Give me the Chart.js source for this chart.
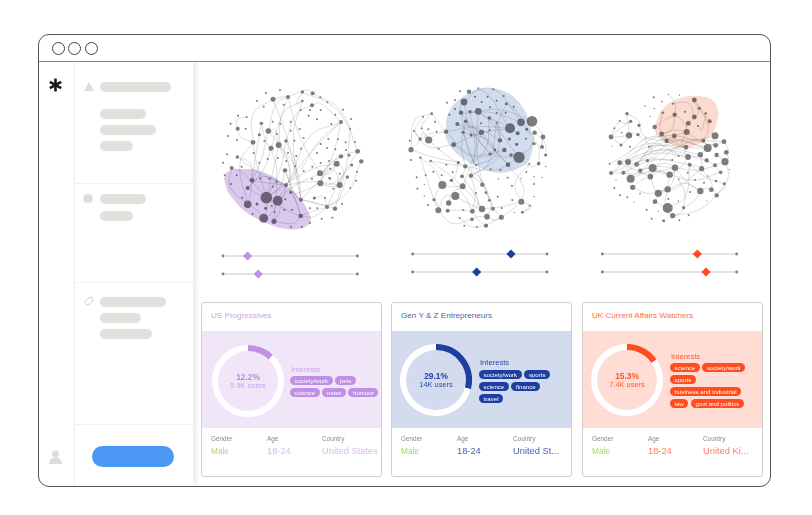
<!DOCTYPE html>
<html>
<head>
<meta charset="utf-8">
<script src="https://cdn.jsdelivr.net/npm/chart.js@4/dist/chart.umd.js"></script>
<style>
html, body { margin: 0; padding: 0; background: #fff; }
body { width: 812px; height: 515px; position: relative; overflow: hidden; font-family: "Liberation Sans", sans-serif; }
.abs { position: absolute; }
#frame { left: 38px; top: 34px; width: 731px; height: 451px; border: 1px solid #555; border-radius: 11px; }
#titlebar { left: 39px; top: 61px; width: 731px; height: 1px; background: #8a8a8a; }
.dot { width: 11px; height: 11px; border: 1px solid #444; border-radius: 50%; top: 42px; }
#rail { left: 74px; top: 62px; width: 1px; height: 423px; background: #eee; }
#gutter { left: 193px; top: 62px; width: 5px; height: 423px; background: linear-gradient(90deg, #eeeeee, #f8f8f8); }
.divider { left: 75px; width: 118px; height: 1px; background: #f1f1f1; }
.bar { left: 100px; height: 10px; background: #e0e0dc; border-radius: 5px; }
#button { left: 92px; top: 446px; width: 82px; height: 21px; background: #4b98f5; border-radius: 11px; }
.card { width: 179px; height: 173px; top: 302px; border: 1px solid #cfcfcf; border-radius: 3px; background: #fff; }
.band { left: 0; width: 179px; top: 28px; height: 97px; }
.title { font-size: 8.1px; top: 8px; white-space: nowrap; }
.ring { width: 72px; height: 72px; }
.share { font-size: 8.4px; font-weight: bold; text-align: center; width: 72px; }
.users { font-size: 7.4px; text-align: center; width: 72px; }
.label { font-size: 7.6px; white-space: nowrap; }
.pills { display: flex; gap: 2.6px; white-space: nowrap; }
.pill { font-size: 6.1px; height: 9px; line-height: 9px; padding: 0 4.6px; border-radius: 5px; color: #fff; }
.meta { font-size: 6.4px; color: #7f8e8e; top: 132px; }
.value { font-size: 9.3px; top: 143px; white-space: nowrap; }
.male { font-size: 8.3px; top: 143px; color: #a9d66e; }
canvas { position: absolute; }
</style>
</head>
<body>
<div class="abs" id="frame"></div>
<div class="abs" id="titlebar"></div>
<div class="abs dot" style="left:52px"></div>
<div class="abs dot" style="left:68px"></div>
<div class="abs dot" style="left:85px"></div>
<div class="abs" id="rail"></div>
<div class="abs" id="gutter"></div>
<div class="abs divider" style="top:183px"></div>
<div class="abs divider" style="top:282px"></div>
<div class="abs divider" style="top:424px"></div>
<div class="abs bar" style="top:82px;width:71px"></div>
<div class="abs bar" style="top:109px;width:46px"></div>
<div class="abs bar" style="top:125px;width:56px"></div>
<div class="abs bar" style="top:141px;width:33px"></div>
<div class="abs bar" style="top:194px;width:46px"></div>
<div class="abs bar" style="top:211px;width:33px"></div>
<div class="abs bar" style="top:297px;width:66px"></div>
<div class="abs bar" style="top:313px;width:41px"></div>
<div class="abs bar" style="top:329px;width:52px"></div>
<div class="abs" id="button"></div>
<svg class="abs" style="left:0;top:0" width="812" height="515">
  <g stroke="#1a1a1a" stroke-width="2.6">
    <line x1="55.5" y1="78.5" x2="55.5" y2="91.5"/>
    <line x1="49.8" y1="81.8" x2="61.2" y2="88.2"/>
    <line x1="49.8" y1="88.2" x2="61.2" y2="81.8"/>
  </g>
  <polygon points="89,82 94,91 84,91" fill="#dcdcd8"/>
  <polygon points="88,193 89.5,195 92,194.5 92,197 93.5,198.5 92,200 92,202.5 89.5,202 88,204 86.5,202 84,202.5 84,200 82.5,198.5 84,197 84,194.5 86.5,195" fill="#dcdcd8"/>
  <ellipse cx="89" cy="301" rx="4.5" ry="2.6" transform="rotate(-45 89 301)" fill="none" stroke="#dcdcd8" stroke-width="1.2"/>
  <circle cx="55.5" cy="454" r="3.5" fill="#dcdcd8"/>
  <path d="M49 464 q0 -6 6.5 -6.5 q6.500 .5 6.500 6.500 z" fill="#dcdcd8"/>
</svg>
<div id="cards"></div>
<canvas id="net1" class="net" width="190" height="220" style="left:200px;top:70px"></canvas>
<canvas id="net2" class="net" width="180" height="220" style="left:395px;top:70px"></canvas>
<canvas id="net3" class="net" width="180" height="220" style="left:585px;top:70px"></canvas>
<canvas id="hull1" width="190" height="220" style="left:200px;top:70px;mix-blend-mode:multiply"></canvas>
<canvas id="hull2" width="180" height="220" style="left:395px;top:70px;mix-blend-mode:multiply"></canvas>
<canvas id="hull3" width="180" height="220" style="left:585px;top:70px;mix-blend-mode:multiply"></canvas>

<script>
// card content
const cardTitles = ["US Progressives", "Gen Y & Z Entrepreneurs", "UK Current Affairs Watchers"];
const shares = [12.2, 29.1, 15.3];
const shareLabels = ["12.2%", "29.1%", "15.3%"];
const userCounts = ["5.9K users", "14K users", "7.4K users"];
const interests = [
  [["society/work", "pets"], ["science", "news", "humour"]],
  [["society/work", "sports"], ["science", "finance"], ["travel"]],
  [["science", "society/work"], ["sports"], ["business and industrial"], ["law", "govt and politics"]]
];
const genders = ["Male", "Male", "Male"];
const ages = ["18-24", "18-24", "18-24"];
const countries = ["United States", "United St...", "United Ki..."];

// sliders: track ends, then knob positions
const trackEnds1 = [69, 472];
const trackEnds2 = [53, 456];
const trackEnds3 = [52, 455];
const trackRows1 = [558, 612];
const trackRows2 = [552, 606];
const knobs1 = [143, 175];
const knobs2 = [348, 245];
const knobs3 = [337, 363];

// graph nodes, [x, y, r]. x/y are in the network's own units
const nodes1 = [
  [199,383,5.8],[233,392,5],[143,403,3.8],[191,445,4.5],[222,454,2.6],[156,331,2.4],[143,354,2],[171,402,1.5],[197,415,1.5],[258,345,2],
  [272,367,1.5],[303,389,2],[302,438,2.2],[95,294,2],[74,316,1],[110,316,1],[93,342,1],[127,383,1],[158,432,1],[181,326,1],
  [208,326,1],[230,336,1],[218,350,1],[253,419,1],[224,427,1],[273,471,1],[305,471,1],[330,459,1],[276,419,1],[256,388,1],[215,408,1],
  [219,88,2.5],[264,81,2],[307,66,1.7],[338,70,2],[336,106,2],[307,93,1.3],[198,69,1],[240,60,1],[171,93,1],[191,110,1],
  [251,104,1],[361,82,1],[382,97,1],[362,120,1],[330,120,1],[302,120,1],[429,119,1],[453,147,1],[423,156,2],[450,176,1],
  [406,134,1],[394,162,1],[351,148,1],[326,137,1],[114,137,1],[140,141,1],[92,161,1],[113,176,2],[137,176,1],[84,198,1],
  [111,210,1],[184,160,1.7],[218,155,1],[241,161,1],[272,155,1],[205,183,2.8],[178,194,1.5],[231,192,1],[159,217,2.4],[193,213,1],
  [213,235,2.5],[236,225,3],[258,213,1.7],[272,182,1],[299,177,1],[283,212,1],[311,204,1],[385,207,1],[414,208,1],[362,222,1],
  [437,217,1],[465,216,1],[473,244,2.4],[484,274,2.2],[406,238,1],[438,240,1],[447,256,1.4],[423,259,2.2],[381,234,1],[351,249,1],
  [303,236,1],[81,253,1],[112,261,1.7],[69,278,1],[161,249,1],[178,278,1],[203,267,1],[233,264,1],[264,248,1],[289,258,1],
  [259,273,1],[125,290,1],[255,301,2.2],[285,289,1],[311,303,1],[337,290,1],[362,279,1],[410,281,3],[387,273,1],[455,285,1.6],
  [471,305,1],[468,332,1],[442,321,1.7],[419,311,1],[391,296,1],[360,310,3],[389,325,1.4],[361,340,3],[419,345,3],[400,356,1],
  [451,354,1],[336,326,1],[343,384,1.6],[375,384,1],[381,411,2],[405,416,2.2],[352,415,1],[426,402,1],[397,443,1],[365,446,1],[330,415,1]
];
const nodes2 = [
  [222,65,2.2],[207,96,3.4],[195,64,1],[250,55,1],[295,58,1],[278,80,1],[326,78,1],[240,80,1],[156,98,1],[180,90,1],
  [260,96,1],[305,92,1],[334,101,1.5],[356,110,1],[198,128,2.2],[225,125,1.7],[250,124,3.4],[180,117,1],[163,134,1],[285,112,1],
  [305,128,1],[332,128,1],[110,131,1.4],[84,141,1],[283,144,1.8],[187,162,2],[212,154,1.8],[345,175,5],[378,157,3.8],[411,154,5.3],
  [153,185,2.2],[204,187,1.5],[228,195,1.5],[259,187,2.7],[284,180,1],[305,158,1],[258,160,1],[368,190,2],[395,178,1.5],[419,188,2.2],
  [444,201,2.4],[101,210,3.6],[75,207,1.7],[57,183,1],[44,212,1],[48,239,2.6],[80,175,1],[100,178,1],[125,185,1],[120,155,1],
  [176,224,2.4],[315,211,2.2],[343,207,1.5],[365,223,1.6],[393,206,1],[417,221,1.7],[441,231,2],[452,255,1.6],[328,240,2.3],[300,240,1.4],
  [285,252,1.5],[348,255,1.7],[372,262,5.7],[339,284,2.3],[287,298,1],[316,300,1],[403,281,1],[431,281,1.8],[452,290,.7],[76,263,1.2],
  [48,270,1],[107,273,1.3],[131,236,1],[190,278,1.6],[211,289,2.2],[243,285,1],[154,284,1],[115,305,1],[140,316,1],[173,307,1],
  [65,322,1],[92,316,1],[169,331,1.7],[201,319,1.9],[228,317,2.2],[262,344,2.2],[142,345,4],[203,349,3],[67,356,1],[88,343,.7],
  [181,378,4],[117,389,1.6],[88,378,.7],[99,405,1],[161,399,2.7],[130,421,3],[158,422,2],[205,420,1],[232,424,2.4],[261,417,3.2],
  [294,416,2],[283,391,1.4],[273,368,1.4],[243,369,1],[308,380,1],[319,442,2.5],[276,440,2.8],[231,448,1.8],[194,444,1],[273,467,2.1],
  [246,471,1],[208,467,1],[382,427,1.4],[404,407,1],[379,395,3],[352,390,1],[320,414,1],[358,427,.7],[338,323,1],[351,347,1],
  [378,326,.7],[394,306,1],[417,342,1],[417,320,.7],[441,322,.7],[417,380,.7],[310,327,.7]
];
const nodes3 = [
  [206,82,1],[250,73,.7],[283,75,.7],[231,95,.8],[263,101,1],[180,108,.8],[208,116,.7],[328,90,2.4],[343,115,1.5],[362,130,1.2],
  [374,154,2],[233,128,1.2],[269,134,2.2],[328,141,2.4],[300,125,1],[126,131,1.7],[137,154,1.6],[104,153,1],[162,166,1.7],[88,175,1],
  [78,201,2.4],[110,188,.8],[132,196,3.2],[159,194,1.7],[108,225,1.5],[135,230,1],[82,229,.6],[182,205,.7],[196,139,.7],[310,160,2.4],
  [209,171,2.2],[339,168,1],[305,186,3],[230,192,2.4],[268,198,2.4],[245,213,2.2],[355,212,2],[390,197,3.5],[417,215,2.4],[303,232,2.4],
  [392,226,2.4],[368,234,4],[424,247,2.4],[346,254,2.7],[309,261,2.9],[395,255,2.2],[365,271,2.2],[420,275,3.6],[390,286,2],[407,307,1.8],
  [350,296,2.6],[314,284,2],[192,230,1],[187,272,1.7],[262,270,1],[281,258,1],[104,278,2.4],[129,276,3],[155,283,2.4],[74,281,1],
  [78,309,2],[115,308,2],[166,302,2.2],[203,294,4],[270,293,3.2],[254,314,3.2],[196,320,2.8],[137,326,4],[143,352,2.6],[93,331,.7],
  [88,354,1],[105,376,1],[127,382,1],[147,396,.6],[165,371,.8],[220,370,3.6],[248,358,3.2],[210,395,2.4],[248,414,5],[263,437,2.6],
  [296,413,1.6],[280,393,.8],[346,363,3.2],[379,359,2.4],[395,376,2.2],[418,341,1.5],[393,333,1.3],[357,338,1],[281,328,.8],[330,330,1],
  [308,308,1],[368,318,.7],[433,298,.7],[315,366,1],[185,419,1],[200,446,1],[236,452,1.5],[283,451,1],[311,436,1],[220,424,.6],[366,393,.6],[250,387,1]
];

// graph edges, [x1, y1, xBend, yBend, x2, y2]
const edges1 = [
  [338,70,420,120,473,244],[307,66,400,110,450,176],[264,81,300,200,360,310],[219,88,260,200,303,389],[219,88,160,130,159,217],[264,81,230,100,205,183],
  [307,93,250,130,236,225],[336,106,290,130,258,213],[423,156,330,250,258,345],[423,156,400,250,361,340],[450,176,440,280,405,416],[473,244,420,330,381,411],
  [484,274,430,380,302,438],[410,281,330,300,199,383],[360,310,280,350,233,392],[361,340,290,370,272,367],[419,345,340,335,258,345],[410,281,350,340,303,389],
  [442,321,400,400,303,389],[455,285,400,340,361,340],[423,259,380,290,361,340],[473,244,420,260,360,310],[205,183,180,280,156,331],[213,235,190,300,143,354],
  [236,225,220,300,199,383],[236,225,270,310,233,392],[159,217,170,280,199,383],[159,217,120,280,143,403],[112,261,150,280,156,331],[95,294,130,310,199,383],
  [95,294,90,350,143,403],[113,176,110,150,140,141],[113,176,120,200,159,217],[184,160,200,220,213,235],[205,183,225,180,236,225],[184,160,170,240,156,331],
  [258,213,240,300,199,383],[255,301,240,350,199,383],[255,301,290,380,303,389],[255,301,290,400,302,438],[156,331,210,340,258,345],[143,354,170,370,199,383],
  [156,331,150,380,143,403],[199,383,200,420,191,445],[233,392,215,430,191,445],[233,392,240,420,222,454],[143,403,170,420,191,445],[272,367,290,400,302,438],
  [258,345,250,380,233,392],[222,454,280,460,302,438],[199,383,260,420,302,438],[143,354,190,320,258,345],[112,261,180,310,258,345],[264,81,320,60,338,70],
  [336,106,360,100,423,156],[307,66,290,100,307,93],[219,88,250,80,264,81],[423,156,360,210,303,300],[423,156,330,200,270,330],[405,416,350,400,303,389],
  [381,411,340,440,302,438],[360,310,400,300,419,345],[410,281,430,300,419,345],[361,340,390,350,419,345],[410,281,390,310,360,310],[343,384,370,380,381,411],
  [205,183,260,260,272,367],[264,81,240,150,213,235],[307,93,280,200,303,389],[236,225,290,300,303,389],[213,235,230,300,222,454],[258,213,290,300,258,345]
];
const edges2 = [
  [222,65,300,60,378,157],[207,96,260,60,345,175],[250,124,300,170,372,262],[198,128,260,200,339,284],[212,154,290,250,372,262],[259,187,300,240,339,284],
  [187,162,260,180,315,211],[153,185,250,170,345,175],[176,224,260,190,345,175],[225,125,300,130,378,157],[250,124,320,120,411,154],[283,144,340,170,368,190],
  [207,96,230,190,259,187],[198,128,220,240,243,285],[225,125,240,230,228,317],[250,124,245,230,262,344],[283,144,270,240,211,289],[305,158,280,280,228,317],
  [259,187,240,250,203,349],[212,154,200,230,211,289],[204,187,230,260,262,344],[176,224,240,260,328,240],[153,185,220,250,285,252],[315,211,300,260,243,285],
  [328,240,290,280,228,317],[372,262,300,300,211,289],[348,255,400,240,419,188],[378,157,410,190,417,221],[411,154,440,190,441,231],[419,188,450,220,452,255],
  [395,178,430,230,431,281],[372,262,410,290,431,281],[110,131,60,150,48,239],[110,131,140,170,153,185],[84,141,60,180,75,207],[101,210,130,190,153,185],
  [75,207,85,190,101,210],[48,239,90,200,125,185],[57,183,100,230,176,224],[110,131,80,170,101,210],[76,263,120,300,142,345],[48,239,110,260,190,278],
  [76,263,100,340,117,389],[107,273,150,280,211,289],[101,210,160,260,211,289],[107,273,170,320,203,349],[190,278,180,320,169,331],[211,289,210,300,201,319],
  [201,319,230,360,261,417],[228,317,240,370,232,424],[169,331,210,380,232,424],[142,345,170,350,203,349],[203,349,240,390,261,417],[181,378,220,400,261,417],
  [117,389,130,410,130,421],[161,399,170,370,203,349],[130,421,150,380,181,378],[158,422,190,420,232,424],[142,345,120,380,130,421],[262,344,280,380,294,416],
  [273,368,290,400,276,440],[243,369,250,400,232,424],[228,317,270,350,283,391],[211,289,260,330,273,368],[232,424,250,450,273,467],[231,448,250,440,276,440],
  [194,444,230,470,273,467],[130,421,170,460,231,448],[276,440,300,450,319,442],[294,416,310,430,319,442],[379,395,350,420,273,467],[379,395,385,350,339,284],
  [403,281,360,340,379,395],[379,395,410,410,382,427],[404,407,395,420,382,427],[261,417,320,410,379,395],[250,124,310,170,315,211],[204,187,280,210,300,240],
  [187,162,230,190,285,252],[207,96,195,110,198,128],[198,128,220,130,250,124],[212,154,230,170,259,187],[334,101,310,160,315,211],[334,101,370,130,378,157]
];
const edges3 = [
  [250,73,270,100,269,134],[263,101,310,100,328,141],[328,90,350,120,374,154],[328,90,340,130,328,141],[343,115,370,170,355,212],[269,134,240,150,209,171],
  [269,134,260,180,230,192],[233,128,225,170,230,192],[328,141,320,150,310,160],[310,160,305,170,305,186],[269,134,300,160,305,186],[230,192,270,180,305,186],
  [230,192,240,200,245,213],[268,198,260,200,245,213],[268,198,290,190,305,186],[245,213,270,225,303,232],[305,186,340,210,355,212],[209,171,220,200,245,213],
  [362,130,350,180,339,168],[126,131,130,170,132,196],[126,131,160,150,162,166],[137,154,120,160,104,153],[104,153,90,170,78,201],[78,201,100,180,137,154],
  [78,201,105,200,132,196],[78,201,95,215,108,225],[132,196,120,215,108,225],[132,196,145,190,159,194],[162,166,180,200,245,213],[159,194,200,240,155,283],
  [104,278,200,200,303,232],[129,276,220,200,392,226],[155,283,230,210,368,234],[78,309,190,230,346,254],[115,308,220,240,309,261],[104,278,230,240,365,271],
  [74,281,200,220,281,258],[166,302,250,240,368,234],[203,294,280,230,390,197],[187,272,270,215,368,234],[78,309,180,270,262,270],[129,276,210,250,309,261],
  [155,283,210,230,303,232],[192,230,280,210,417,215],[115,308,210,270,314,284],[78,309,180,310,270,293],[104,278,150,300,196,320],[137,326,170,300,203,294],
  [137,326,210,300,254,314],[166,302,200,290,270,293],[203,294,230,310,254,314],[203,294,240,280,270,293],[196,320,225,305,254,314],[143,352,170,330,196,320],
  [143,352,190,370,248,358],[196,320,210,360,220,370],[254,314,250,340,248,358],[270,293,260,340,220,370],[220,370,215,385,210,395],[248,358,240,400,248,414],
  [210,395,230,405,248,414],[248,414,255,430,263,437],[263,437,285,430,296,413],[296,413,330,390,346,363],[263,437,340,420,395,376],[248,358,300,340,346,363],
  [270,293,310,340,346,363],[346,363,365,355,379,359],[379,359,390,365,395,376],[395,376,420,350,418,341],[420,275,430,320,395,376],[350,296,380,340,379,359],
  [314,284,340,290,350,296],[309,261,330,260,346,254],[346,254,360,240,368,234],[368,234,380,225,392,226],[392,226,405,220,417,215],[417,215,430,240,424,247],
  [424,247,430,265,420,275],[395,255,410,265,420,275],[365,271,380,280,390,286],[390,286,400,300,407,307],[314,284,360,320,418,341],[254,314,330,330,407,307],
  [270,293,340,300,420,275],[309,261,290,290,254,314],[303,232,300,250,309,261],[346,254,350,280,350,296],[390,197,385,215,392,226],[355,212,365,225,368,234],
  [281,328,300,370,296,413],[248,414,300,380,314,284],[220,370,280,350,350,296],[305,186,290,220,303,232]
];

// highlighted clusters: upper and lower edge, both running left to right
const hullTop1 = [[72,325],[82,305],[120,297],[180,303],[250,340],[300,385],[325,425],[333,445]];
const hullLow1 = [[72,325],[78,350],[90,375],[130,420],[190,455],[260,477],[310,473],[330,458],[333,445]];
const hullTop2 = [[152,175],[155,145],[175,105],[225,68],[280,55],[340,70],[385,115],[405,165],[414,215]];
const hullLow2 = [[152,175],[155,210],[190,255],[240,285],[290,305],[340,305],[395,280],[410,250],[414,215]];
const hullTop3 = [[210,165],[235,115],[285,85],[340,78],[385,92],[402,130]];
const hullLow3 = [[210,165],[218,195],[250,218],[300,232],[345,220],[385,185],[402,130]];

const themes = [
  { ink: "#c9a2ec", soft: "#c9a2ec", value: "#d5bcf0", band: "#f0e6f8", pill: "#c08fe6", arc: "#c08fe6", hull: "#d9c9ee", shareInk: "#b98ae0" },
  { ink: "#4a5fae", soft: "#2f48a6", value: "#4a60b2", band: "#d3dcee", pill: "#1f3fa0", arc: "#1f3fa0", hull: "#d2dcef", shareInk: "#2440a0" },
  { ink: "#ff6b47", soft: "#ff5a30", value: "#ff7c5c", band: "#ffddd5", pill: "#ff4d1f", arc: "#ff4d1f", hull: "#fbdad0", shareInk: "#ff5428" }
];

// page positions of each card and its parts (relative to the card)
const cardLefts = [201, 391, 582];
const ringPos = [[10, 42], [8, 41], [8, 41]];
const interestPos = [[89, 62, 73], [88, 55, 67], [88, 49, 60]];
const metaLefts = [[9, 65, 120], [9, 65, 121], [9, 65, 120]];

const cardsEl = document.getElementById("cards");
cardTitles.forEach((title, i) => {
  const t = themes[i];
  const [rx, ry] = ringPos[i];
  const [ix, iy, py] = interestPos[i];
  const [gx, ax, cx] = metaLefts[i];
  const rows = interests[i].map((row, r) =>
    `<div class="abs pills" style="left:${ix - 1}px;top:${py + r * 12.1}px">` +
    row.map(p => `<span class="pill" style="background:${t.pill}">${p}</span>`).join("") + `</div>`
  ).join("");
  const html =
    `<div class="abs card" style="left:${cardLefts[i]}px">` +
    `<div class="abs title" style="left:${gx}px;color:${t.ink}">${title.replace("&", "&amp;")}</div>` +
    `<div class="abs band" style="background:${t.band}"></div>` +
    `<canvas id="ring${i}" class="ring" width="72" height="72" style="left:${rx}px;top:${ry}px"></canvas>` +
    `<div class="abs share" style="left:${rx}px;top:${ry + 26.5}px;color:${t.shareInk}">${shareLabels[i]}</div>` +
    `<div class="abs users" style="left:${rx}px;top:${ry + 35.5}px;color:${t.soft}">${userCounts[i]}</div>` +
    `<div class="abs label" style="left:${ix}px;top:${iy}px;color:${t.soft}">Interests</div>` + rows +
    `<div class="abs meta" style="left:${gx}px">Gender</div>` +
    `<div class="abs meta" style="left:${ax}px">Age</div>` +
    `<div class="abs meta" style="left:${cx}px">Country</div>` +
    `<div class="abs male" style="left:${gx}px">${genders[i]}</div>` +
    `<div class="abs value" style="left:${ax}px;color:${t.value}">${ages[i]}</div>` +
    `<div class="abs value" style="left:${cx}px;color:${t.value}">${countries[i]}</div>` +
    `</div>`;
  cardsEl.insertAdjacentHTML("beforeend", html);
});

const toPoints = (rows) => rows.map(([x, y]) => ({ x, y }));
const toBubbles = (rows) => rows.map(([x, y, r]) => ({ x, y, r }));

// edges go in one line dataset, null points break the path
function toEdgePath(edges) {
  const out = [];
  edges.forEach(([x1, y1, xm, ym, x2, y2]) => {
    out.push({ x: x1, y: y1 }, { x: xm, y: ym }, { x: x2, y: y2 }, { x: null, y: null });
  });
  return out;
}

function baseOptions(w, h) {
  return {
    responsive: false,
    animation: false,
    layout: { padding: 0, autoPadding: false },
    scales: {
      x: { type: "linear", min: 0, max: w * 3, display: false },
      y: { type: "linear", min: 0, max: h * 3, reverse: true, display: false }
    },
    plugins: { legend: { display: false }, tooltip: { enabled: false } },
    events: []
  };
}

function sliderSets(ends, rows, knobs, color) {
  const sets = [];
  rows.forEach((y, i) => {
    sets.push({
      type: "scatter", order: 1,
      data: [{ x: knobs[i], y }],
      pointStyle: "rectRot", pointRadius: 4.6, backgroundColor: color, borderWidth: 0
    });
    sets.push({
      type: "line", order: 2,
      data: ends.map(x => ({ x, y })),
      borderColor: "#c9c9c9", borderWidth: 1.2,
      pointRadius: 1.4, pointBackgroundColor: "#7d7d7d", pointBorderWidth: 0
    });
  });
  return sets;
}

function drawNetwork(id, w, nodes, edges, ends, rows, knobs, color) {
  new Chart(document.getElementById(id), {
    type: "bubble",
    data: {
      datasets: [
        { type: "bubble", order: 3, data: toBubbles(nodes), backgroundColor: "#7c7c7c", borderWidth: 0 },
        {
          type: "line", order: 4, data: toEdgePath(edges), tension: 0.45, spanGaps: false,
          borderColor: "rgba(140,140,140,0.5)", borderWidth: 0.6, pointRadius: 0
        },
        ...sliderSets(ends, rows, knobs, color)
      ]
    },
    options: baseOptions(w, 220)
  });
}

// the area between the two edges is the cluster shape
// borders stay on but see-through, with width 0 the lower curve gets no control points
function drawHull(id, w, top, low, color) {
  new Chart(document.getElementById(id), {
    type: "line",
    data: {
      datasets: [
        { data: toPoints(top), tension: 0.4, fill: "+1", backgroundColor: color, borderColor: "rgba(0,0,0,0)", borderWidth: 1, pointRadius: 0 },
        { data: toPoints(low), tension: 0.4, fill: false, borderColor: "rgba(0,0,0,0)", borderWidth: 1, pointRadius: 0 }
      ]
    },
    options: baseOptions(w, 220)
  });
}

drawNetwork("net1", 190, nodes1, edges1, trackEnds1, trackRows1, knobs1, themes[0].arc);
drawNetwork("net2", 180, nodes2, edges2, trackEnds2, trackRows2, knobs2, themes[1].arc);
drawNetwork("net3", 180, nodes3, edges3, trackEnds3, trackRows2, knobs3, themes[2].arc);
drawHull("hull1", 190, hullTop1, hullLow1, themes[0].hull);
drawHull("hull2", 180, hullTop2, hullLow2, themes[1].hull);
drawHull("hull3", 180, hullTop3, hullLow3, themes[2].hull);

shares.forEach((share, i) => {
  new Chart(document.getElementById("ring" + i), {
    type: "doughnut",
    data: { datasets: [{ data: [share, 100 - share], backgroundColor: [themes[i].arc, "#ffffff"], borderWidth: 0 }] },
    options: {
      responsive: false, animation: false, cutout: "83%", events: [],
      plugins: { legend: { display: false }, tooltip: { enabled: false } }
    }
  });
});
</script>
</body>
</html>
